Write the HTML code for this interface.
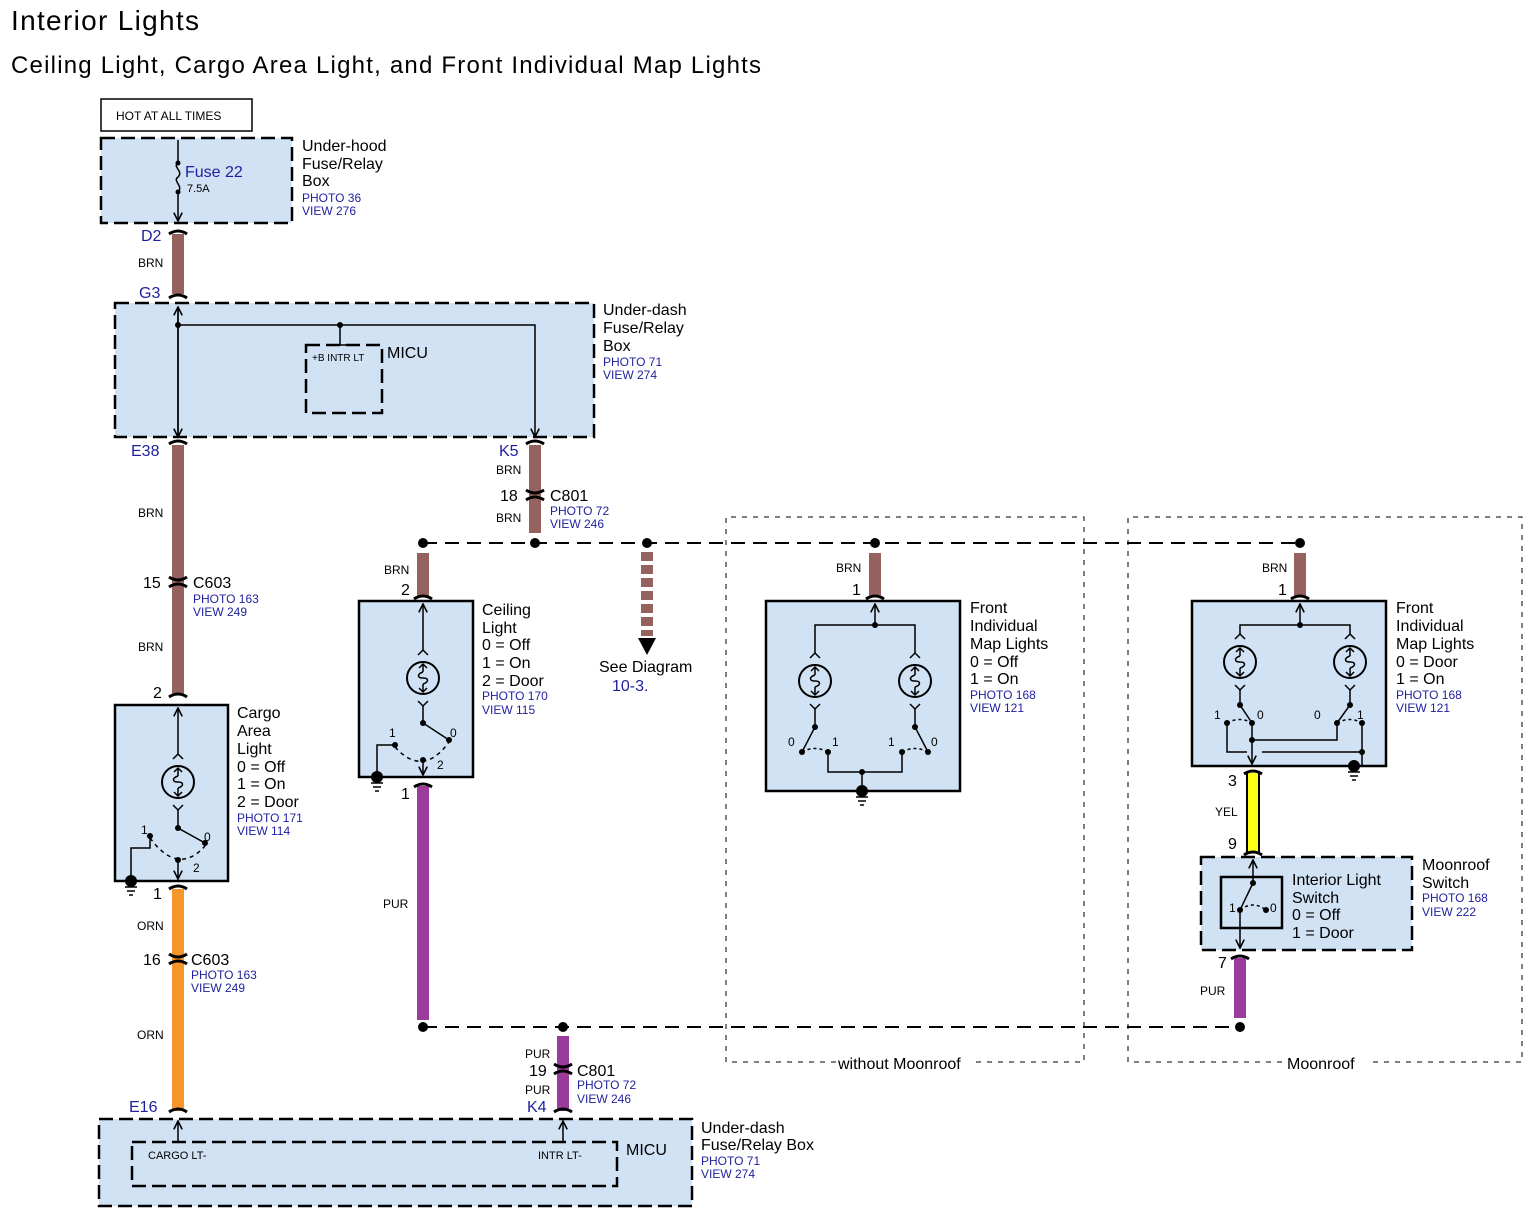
<!DOCTYPE html>
<html><head><meta charset="utf-8"><style>
html,body{margin:0;padding:0;background:#fff}
svg{display:block;font-family:"Liberation Sans",Arial,sans-serif}
.b{fill:#1f1f9e;font-size:12px}
.t{font-size:16px;fill:#000}
.s{font-size:12px;fill:#000}
.n{font-size:16px;fill:#1f1f9e}
</style></head><body>
<svg width="1534" height="1223" viewBox="0 0 1534 1223" xmlns="http://www.w3.org/2000/svg">
<defs>
<marker id="ar" viewBox="0 0 10 10" refX="9" refY="5" markerWidth="7" markerHeight="7" orient="auto-start-reverse"><path d="M1,1 L9,5 L1,9" fill="none" stroke="#000" stroke-width="1.5"/></marker>
<g id="bulb">
<polyline points="-5,-23 0,-28 5,-23" fill="none" stroke="#000" stroke-width="1.5"/>
<polyline points="-5,23 0,28 5,23" fill="none" stroke="#000" stroke-width="1.5"/>
<circle r="16" fill="none" stroke="#000" stroke-width="2"/>
<path d="M0,-14 L0,-6 M0,6 L0,14 M-4,-10 L0,-14 L4,-10 M-4,10 L0,14 L4,10" stroke="#000" stroke-width="1.5" fill="none"/>
<path d="M0,-6 C-6,-4 -6,0 0,0 C6,0 6,4 0,6" fill="none" stroke="#000" stroke-width="1.5"/>
</g>
<g id="gnd"><path d="M-6,4 H6 M-4,8 H4 M-2,12 H2" stroke="#000" stroke-width="1.5"/></g>
</defs>

<text x="11" y="30" font-size="28" textLength="188">Interior Lights</text>
<text x="11" y="73" font-size="24" textLength="750">Ceiling Light, Cargo Area Light, and Front Individual Map Lights</text>

<!-- boxes -->
<rect x="101" y="99" width="151" height="32" fill="#fff" stroke="#000" stroke-width="1.5"/>
<text x="116" y="120" class="s" font-size="13">HOT AT ALL TIMES</text>
<g fill="#d0e2f4" stroke="#000" stroke-width="2.5" stroke-dasharray="14 6">
<rect x="101" y="138" width="191" height="85"/>
<rect x="115" y="303" width="479" height="134"/>
<rect x="306" y="345" width="76" height="68"/>
<rect x="1201" y="857" width="211" height="93"/>
<rect x="99" y="1119" width="593" height="87"/>
<rect x="132" y="1142" width="485" height="44"/>
</g>
<g fill="#d0e2f4" stroke="#000" stroke-width="2.5">
<rect x="115" y="705" width="113" height="176"/>
<rect x="359" y="601" width="114" height="176"/>
<rect x="766" y="601" width="194" height="190"/>
<rect x="1192" y="601" width="194" height="165"/>
</g>
<rect x="1221" y="877" width="61" height="51" fill="none" stroke="#000" stroke-width="2.5"/>

<!-- option boxes -->
<g fill="none" stroke="#000" stroke-width="1" stroke-dasharray="5 6">
<path d="M836,1062 H726 V517 H1084 V1062 H975"/>
<path d="M1282,1062 H1128 V517 H1522 V1062 H1368"/>
</g>
<text x="838" y="1069" class="t">without Moonroof</text>
<text x="1287" y="1069" class="t">Moonroof</text>

<!-- wires -->
<g stroke-width="12" fill="none">
<path d="M178,234 V294 M178,445 V694 M535,445 V533 M423,553 V597 M875,553 V597 M1300,553 V597" stroke="#95625f"/>
<path d="M178,889 V1111" stroke="#f7962a"/>
<path d="M423,786 V1020 M563,1036 V1111 M1240,958 V1018" stroke="#9b3b9b"/>
</g>
<path d="M1253,773 V853" stroke="#000" stroke-width="14"/>
<path d="M1253,773 V853" stroke="#ffff14" stroke-width="10"/>
<path d="M647,552 V636" stroke="#95625f" stroke-width="12" stroke-dasharray="9 4"/>
<path d="M638,638 H656 L647,655 Z" fill="#000"/>

<!-- connector arcs -->
<g fill="none" stroke="#000" stroke-width="3">
<path d="M169,234 Q178,228 187,234"/><path d="M169,298 Q178,292 187,298"/>
<path d="M169,444 Q178,438 187,444"/><path d="M526,444 Q535,438 544,444"/>
<path d="M169,577 Q178,583 187,577"/><path d="M169,587 Q178,581 187,587"/>
<path d="M526,490 Q535,496 544,490"/><path d="M526,500 Q535,494 544,500"/>
<path d="M169,697 Q178,691 187,697"/><path d="M169,889 Q178,883 187,889"/>
<path d="M169,954 Q178,960 187,954"/><path d="M169,964 Q178,958 187,964"/>
<path d="M169,1112 Q178,1106 187,1112"/>
<path d="M414,599 Q423,593 432,599"/><path d="M414,787 Q423,781 432,787"/>
<path d="M866,599 Q875,593 884,599"/><path d="M1291,599 Q1300,593 1309,599"/>
<path d="M1244,774 Q1253,768 1262,774"/><path d="M1244,855 Q1253,849 1262,855"/>
<path d="M1231,959 Q1240,953 1249,959"/>
<path d="M554,1064 Q563,1070 572,1064"/><path d="M554,1074 Q563,1068 572,1074"/>
<path d="M554,1112 Q563,1106 572,1112"/>
</g>

<!-- bus dashed -->
<g stroke="#000" stroke-width="2" stroke-dasharray="14 8" fill="none">
<path d="M423,543 H1300"/><path d="M423,1027 H1240"/>
</g>
<g fill="#000">
<circle cx="423" cy="543" r="5"/><circle cx="535" cy="543" r="5"/><circle cx="647" cy="543" r="5"/><circle cx="875" cy="543" r="5"/><circle cx="1300" cy="543" r="5"/>
<circle cx="423" cy="1027" r="5"/><circle cx="563" cy="1027" r="5"/><circle cx="1240" cy="1027" r="5"/>
</g>

<!-- internal lines -->
<g stroke="#000" stroke-width="1.5" fill="none">
<path d="M178,140 V163 M178,192 V221" marker-end="url(#ar)"/>
<path d="M178,163 C172,167 184,171 178,177 C172,181 184,186 178,192"/>
<path d="M178,307 V437" marker-end="url(#ar)"/>
<path d="M178,437 V307" marker-end="url(#ar)"/>
<path d="M178,325 H535 V437" marker-end="url(#ar)"/>
<path d="M340,325 V345 M330,345 H350"/>
<path d="M178,755 V708" marker-end="url(#ar)"/>
<path d="M178,809 V828 L205,843"/>
<path d="M150,836 V848 H131 V881"/>
<path d="M150,838 Q178,876 205,846" stroke-dasharray="4 4"/>
<path d="M178,860 V879" marker-end="url(#ar)"/>
<path d="M423,651 V604" marker-end="url(#ar)"/>
<path d="M423,705 V723 L449,740"/>
<path d="M395,745 H377 V777"/>
<path d="M395,747 Q423,778 449,742" stroke-dasharray="4 4"/>
<path d="M423,760 V775" marker-end="url(#ar)"/>
<path d="M875,625 V604" marker-end="url(#ar)"/>
<path d="M815,654 V625 H915 V654"/>
<path d="M815,708 V727 L802,752 M915,708 V727 L928,752"/>
<path d="M802,752 Q815,745 828,752 M902,752 Q915,745 928,752" stroke-dasharray="3 3"/>
<path d="M828,752 V772 H902 V752 M862,772 V791"/>
<path d="M1300,625 V604" marker-end="url(#ar)"/>
<path d="M1240,635 V625 H1350 V635"/>
<path d="M1240,689 V705 L1252,723 M1350,689 V705 L1337,723"/>
<path d="M1227,723 Q1240,716 1252,723 M1337,723 Q1350,716 1362,723" stroke-dasharray="3 3"/>
<path d="M1252,723 V764" marker-end="url(#ar)"/>
<path d="M1227,723 V752 H1247 M1262,752 H1362 M1362,723 V766 M1252,740 H1337 V723"/>
<path d="M1253,883 V860" marker-end="url(#ar)"/>
<path d="M1253,883 L1240,910 V948" marker-end="url(#ar)"/>
<path d="M1240,910 Q1253,900 1266,910" stroke-dasharray="3 3"/>
<path d="M178,1142 V1121" marker-end="url(#ar)"/>
<path d="M563,1142 V1121" marker-end="url(#ar)"/>
</g>
<g fill="#000">
<circle cx="178" cy="163" r="2.5"/><circle cx="178" cy="192" r="2.5"/>
<circle cx="178" cy="325" r="3"/><circle cx="340" cy="325" r="3"/>
<circle cx="178" cy="828" r="3"/><circle cx="205" cy="843" r="3"/><circle cx="150" cy="836" r="3"/><circle cx="178" cy="860" r="3"/>
<circle cx="131" cy="881" r="6"/>
<circle cx="423" cy="723" r="3"/><circle cx="449" cy="740" r="3"/><circle cx="395" cy="745" r="3"/><circle cx="423" cy="760" r="3"/>
<circle cx="377" cy="777" r="6"/>
<circle cx="875" cy="625" r="3"/><circle cx="815" cy="727" r="3"/><circle cx="915" cy="727" r="3"/>
<circle cx="802" cy="752" r="3"/><circle cx="828" cy="752" r="3"/><circle cx="902" cy="752" r="3"/><circle cx="928" cy="752" r="3"/>
<circle cx="862" cy="772" r="3"/><circle cx="862" cy="791" r="6"/>
<circle cx="1300" cy="625" r="3"/><circle cx="1240" cy="705" r="3"/><circle cx="1350" cy="705" r="3"/>
<circle cx="1227" cy="723" r="3"/><circle cx="1252" cy="723" r="3"/><circle cx="1337" cy="723" r="3"/><circle cx="1362" cy="723" r="3"/>
<circle cx="1252" cy="740" r="3"/><circle cx="1362" cy="752" r="3"/><circle cx="1354" cy="766" r="6"/>
<circle cx="1253" cy="883" r="3"/><circle cx="1240" cy="910" r="3"/><circle cx="1266" cy="910" r="3"/>
</g>
<use href="#gnd" x="131" y="883"/><use href="#gnd" x="377" y="779"/><use href="#gnd" x="862" y="793"/><use href="#gnd" x="1354" y="768"/>
<use href="#bulb" x="178" y="782"/><use href="#bulb" x="423" y="678"/>
<use href="#bulb" x="815" y="681"/><use href="#bulb" x="915" y="681"/>
<use href="#bulb" x="1240" y="662"/><use href="#bulb" x="1350" y="662"/>

<g class="s">
<text x="389" y="737">1</text><text x="450" y="737">0</text><text x="437" y="769">2</text>
<text x="141" y="834">1</text><text x="204" y="841">0</text><text x="193" y="872">2</text>
<text x="788" y="746">0</text><text x="832" y="746">1</text><text x="888" y="746">1</text><text x="931" y="746">0</text>
<text x="1214" y="719">1</text><text x="1257" y="719">0</text><text x="1314" y="719">0</text><text x="1357" y="719">1</text>
<text x="1229" y="912">1</text><text x="1270" y="912">0</text>
<text x="187" y="192" font-size="11">7.5A</text>
<text x="312" y="361" font-size="10">+B INTR LT</text>
<text x="148" y="1159" font-size="11">CARGO LT-</text>
<text x="538" y="1159" font-size="11">INTR LT-</text>
<text x="138" y="267">BRN</text><text x="138" y="517">BRN</text><text x="138" y="651">BRN</text>
<text x="137" y="930">ORN</text><text x="137" y="1039">ORN</text>
<text x="496" y="474">BRN</text><text x="496" y="522">BRN</text>
<text x="384" y="574">BRN</text><text x="836" y="572">BRN</text><text x="1262" y="572">BRN</text>
<text x="383" y="908">PUR</text><text x="1215" y="816">YEL</text><text x="1200" y="995">PUR</text>
<text x="525" y="1058">PUR</text><text x="525" y="1094">PUR</text>
</g>
<g class="n">
<text x="185" y="177">Fuse 22</text>
<text x="141" y="241">D2</text><text x="139" y="298">G3</text><text x="131" y="456">E38</text>
<text x="499" y="456">K5</text><text x="129" y="1112">E16</text><text x="527" y="1112">K4</text>
<text x="612" y="691">10-3.</text>
</g>
<g class="t">
<text x="302" y="151">Under-hood</text><text x="302" y="169">Fuse/Relay</text><text x="302" y="186">Box</text>
<text x="603" y="315">Under-dash</text><text x="603" y="333">Fuse/Relay</text><text x="603" y="351">Box</text>
<text x="387" y="358">MICU</text>
<text x="500" y="501">18</text><text x="550" y="501">C801</text>
<text x="143" y="588">15</text><text x="193" y="588">C603</text>
<text x="153" y="698">2</text>
<text x="237" y="718">Cargo</text><text x="237" y="736">Area</text><text x="237" y="754">Light</text><text x="237" y="772">0 = Off</text><text x="237" y="789">1 = On</text><text x="237" y="807">2 = Door</text>
<text x="153" y="899">1</text>
<text x="143" y="965">16</text><text x="191" y="965">C603</text>
<text x="401" y="595">2</text><text x="401" y="799">1</text>
<text x="482" y="615">Ceiling</text><text x="482" y="633">Light</text><text x="482" y="650">0 = Off</text><text x="482" y="668">1 = On</text><text x="482" y="686">2 = Door</text>
<text x="599" y="672">See Diagram</text>
<text x="852" y="595">1</text>
<text x="970" y="613">Front</text><text x="970" y="631">Individual</text><text x="970" y="649">Map Lights</text><text x="970" y="667">0 = Off</text><text x="970" y="684">1 = On</text>
<text x="1278" y="595">1</text>
<text x="1396" y="613">Front</text><text x="1396" y="631">Individual</text><text x="1396" y="649">Map Lights</text><text x="1396" y="667">0 = Door</text><text x="1396" y="684">1 = On</text>
<text x="1228" y="786">3</text><text x="1228" y="849">9</text><text x="1218" y="968">7</text>
<text x="1292" y="885">Interior Light</text><text x="1292" y="903">Switch</text><text x="1292" y="920">0 = Off</text><text x="1292" y="938">1 = Door</text>
<text x="1422" y="870">Moonroof</text><text x="1422" y="888">Switch</text>
<text x="529" y="1076">19</text><text x="577" y="1076">C801</text>
<text x="626" y="1155">MICU</text>
<text x="701" y="1133">Under-dash</text><text x="701" y="1150">Fuse/Relay Box</text>
</g>
<g class="b">
<text x="302" y="202">PHOTO 36</text><text x="302" y="215">VIEW 276</text>
<text x="603" y="366">PHOTO 71</text><text x="603" y="379">VIEW 274</text>
<text x="550" y="515">PHOTO 72</text><text x="550" y="528">VIEW 246</text>
<text x="193" y="603">PHOTO 163</text><text x="193" y="616">VIEW 249</text>
<text x="237" y="822">PHOTO 171</text><text x="237" y="835">VIEW 114</text>
<text x="191" y="979">PHOTO 163</text><text x="191" y="992">VIEW 249</text>
<text x="482" y="700">PHOTO 170</text><text x="482" y="714">VIEW 115</text>
<text x="970" y="699">PHOTO 168</text><text x="970" y="712">VIEW 121</text>
<text x="1396" y="699">PHOTO 168</text><text x="1396" y="712">VIEW 121</text>
<text x="1422" y="902">PHOTO 168</text><text x="1422" y="916">VIEW 222</text>
<text x="577" y="1089">PHOTO 72</text><text x="577" y="1103">VIEW 246</text>
<text x="701" y="1165">PHOTO 71</text><text x="701" y="1178">VIEW 274</text>
</g>
</svg>
</body></html>
